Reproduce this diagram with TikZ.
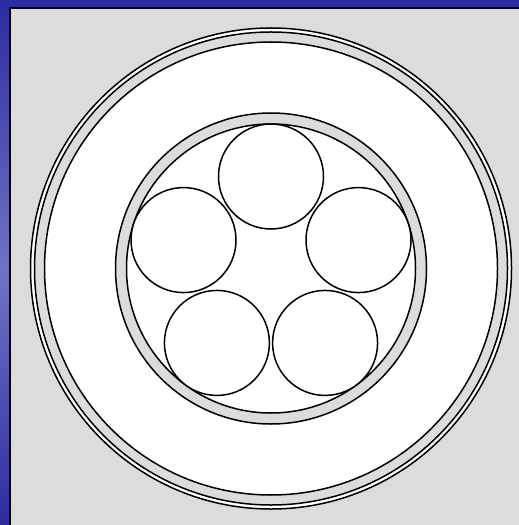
\documentclass[tikz,border=0pt]{standalone}
\usetikzlibrary{calc}
\begin{document}
\begin{tikzpicture}[x=1bp,y=-1bp,
  ring/.style={draw=black,line width=1.5bp},
  cable/.style={draw=black,fill=white,line width=1.5bp}]
\definecolor{frameblue}{RGB}{44,44,160}
\definecolor{lightblue}{RGB}{110,116,196}
\definecolor{panel}{RGB}{220,220,220}
\useasboundingbox (0,0) rectangle (519,525);
% frame
\fill[frameblue] (0,0) rectangle (519,525);
\shade[top color=frameblue,bottom color=lightblue] (0,0) rectangle (11,270);
\shade[top color=lightblue,bottom color=frameblue] (0,270) rectangle (11,525);
\fill[panel] (10,8.5) rectangle (519,525);
\draw[line width=2bp] (10,525) -- (10,8.5) -- (519,8.5);
% outer sheath
\coordinate (c) at (271,268.5);
\fill[white] (c) circle (240.5);
\draw[ring] (c) circle (240.5);
\fill[panel] (c) circle (236.5);
\draw[ring] (c) circle (236.5);
\fill[white] (c) circle (226.5);
\draw[ring] (c) circle (226.5);
% inner sheath
\fill[panel] (c) circle (155.5);
\draw[ring] (c) circle (155.5);
\fill[white] (c) circle (144.5);
\draw[ring] (c) circle (144.5);
% conductors (y axis points down, so angles are mirrored)
\foreach \a in {270,198,126,54,342}
  \draw[cable] ($(c)+(\a:92)$) circle (52.5);
\end{tikzpicture}
\end{document}
